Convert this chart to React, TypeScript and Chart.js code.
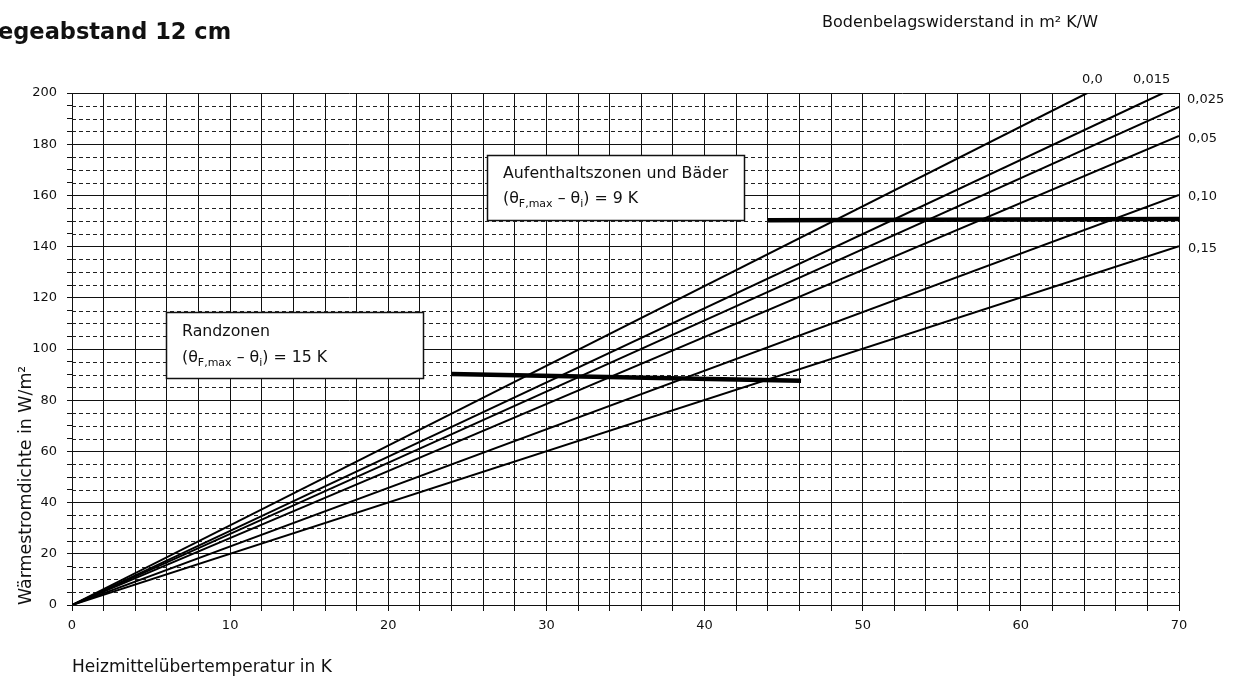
import React, { useEffect, useRef } from "react";
import { Chart, registerables } from "chart.js";

Chart.register(...registerables);

// ---- data ----
const resistanceLabels = ["0,0", "0,015", "0,025", "0,05", "0,10", "0,15"];
const lineX0 = [0, 0, 0, 0, 0, 0];
const lineY0 = [0, 0, 0, 0, 0, 0];
const lineX1 = [64.2, 69.0, 70, 70, 70, 70];
const lineY1 = [200, 200, 194.6, 183.2, 160.2, 140.2];

const limitNames = ["Aufenthaltszonen und Bäder", "Randzonen"];
const limitDelta = ["9 K", "15 K"];
const limitX = [
  [44, 70],
  [24, 46.1],
];
const limitY = [
  [150.3, 150.8],
  [90.2, 87.6],
];

const xTickMajor = 10;
const yTickMajor = 20;

const FONT = "'DejaVu Sans'";

const overlayPlugin = {
  id: "overlay",
  beforeDatasetsDraw(chart: any) {
    const { ctx, chartArea, scales } = chart;
    const y = scales.y;
    ctx.save();
    ctx.strokeStyle = "#222";
    ctx.lineWidth = 1;
    ctx.setLineDash([4, 3]);
    y.ticks.forEach((t: any) => {
      if (t.value % yTickMajor !== 0) {
        const py = Math.round(y.getPixelForValue(t.value)) + 0.5;
        ctx.beginPath();
        ctx.moveTo(chartArea.left, py);
        ctx.lineTo(chartArea.right, py);
        ctx.stroke();
      }
    });
    ctx.restore();
  },
  afterDatasetsDraw(chart: any) {
    const { ctx } = chart;
    ctx.save();
    ctx.fillStyle = "#111";
    ctx.textBaseline = "alphabetic";
    ctx.textAlign = "left";

    // title (cut off at the left edge, as in the reference)
    ctx.font = `bold 22.5px ${FONT}`;
    ctx.fillText("egeabstand 12 cm", -2, 39);

    // legend heading
    ctx.font = `16px ${FONT}`;
    ctx.fillText("Bodenbelagswiderstand in m² K/W", 822, 27);

    // curve labels
    ctx.font = `13px ${FONT}`;
    const labelPos = [
      [1082, 83],
      [1133, 83],
      [1187, 103],
      [1188, 142],
      [1188, 200],
      [1188, 252],
    ];
    resistanceLabels.forEach((l, i) => ctx.fillText(l, labelPos[i][0], labelPos[i][1]));

    // annotation boxes
    const boxes = [
      { x: 487.5, y: 155.5, w: 257, h: 65, tx: 503, b1: 178, b2: 203 },
      { x: 166.5, y: 312.5, w: 257, h: 66, tx: 182, b1: 336, b2: 362 },
    ];
    boxes.forEach((b, i) => {
      ctx.fillStyle = "#fff";
      ctx.fillRect(b.x, b.y, b.w, b.h);
      ctx.strokeStyle = "#111";
      ctx.lineWidth = 1.5;
      ctx.strokeRect(b.x, b.y, b.w, b.h);
      ctx.fillStyle = "#111";
      ctx.font = `15.8px ${FONT}`;
      ctx.fillText(limitNames[i], b.tx, b.b1);
      let x = b.tx;
      const seg = (s: string, small: boolean, dy: number) => {
        ctx.font = small ? `11px ${FONT}` : `15.8px ${FONT}`;
        ctx.fillText(s, x, b.b2 + dy);
        x += ctx.measureText(s).width;
      };
      seg("(θ", false, 0);
      seg("F,max", true, 4);
      seg(" – θ", false, 0);
      seg("i", true, 4);
      seg(") = " + limitDelta[i], false, 0);
    });
    ctx.restore();
  },
};

export default function App() {
  const ref = useRef<HTMLCanvasElement>(null);
  useEffect(() => {
    if (!ref.current) return;
    const curveSets = resistanceLabels.map((l, i) => ({
      label: l,
      data: [
        { x: lineX0[i], y: lineY0[i] },
        { x: lineX1[i], y: lineY1[i] },
      ],
      borderColor: "#000",
      borderWidth: 2,
      pointRadius: 0,
      fill: false,
      tension: 0,
    }));
    const limitSets = limitNames.map((l, i) => ({
      label: l,
      data: [
        { x: limitX[i][0], y: limitY[i][0] },
        { x: limitX[i][1], y: limitY[i][1] },
      ],
      borderColor: "#000",
      borderWidth: 4.5,
      borderCapStyle: "butt",
      pointRadius: 0,
      fill: false,
    }));
    const chart = new Chart(ref.current, {
      type: "line",
      data: { datasets: [...curveSets, ...limitSets] as any },
      options: {
        animation: false,
        responsive: false,
        devicePixelRatio: 1,
        layout: { padding: { left: 0, top: 93, right: 58, bottom: 0 } },
        plugins: { legend: { display: false }, tooltip: { enabled: false } },
        scales: {
          x: {
            type: "linear",
            min: 0,
            max: 70,
            afterFit: (s: any) => {
              s.height = 76;
            },
            ticks: {
              stepSize: 2,
              autoSkip: false,
              maxRotation: 0,
              padding: 7,
              color: "#111",
              font: { family: FONT, size: 13 },
              callback: (v: any) => (v % xTickMajor === 0 ? String(v) : ""),
            },
            grid: { color: "#111", lineWidth: 1, tickLength: 6, tickColor: "#111" },
            border: { color: "#111", width: 1 },
            title: {
              display: true,
              text: "Heizmittelübertemperatur in K",
              align: "start",
              color: "#111",
              font: { family: FONT, size: 17 },
              padding: { top: 0, bottom: 3 },
            },
          },
          y: {
            type: "linear",
            min: 0,
            max: 200,
            afterFit: (s: any) => {
              s.width = 72;
            },
            ticks: {
              stepSize: 5,
              autoSkip: false,
              padding: 10,
              color: "#111",
              font: { family: FONT, size: 13 },
              callback: (v: any) => (v % yTickMajor === 0 ? String(v) : ""),
            },
            grid: {
              color: (c: any) => (c.tick && c.tick.value % yTickMajor === 0 ? "#111" : "rgba(0,0,0,0)"),
              lineWidth: 1,
              tickLength: 5,
              tickColor: "#111",
            },
            border: { color: "#111", width: 1 },
            title: {
              display: true,
              text: "Wärmestromdichte in W/m²",
              align: "start",
              color: "#111",
              font: { family: FONT, size: 17.4 },
              padding: { top: 16, bottom: 0 },
            },
          },
        },
      },
      plugins: [overlayPlugin],
    } as any);
    return () => chart.destroy();
  }, []);
  return (
    <div style={{ position: "fixed", left: 0, top: 0, width: 1237, height: 681, background: "#fff" }}>
      <canvas ref={ref} width={1237} height={681} />
    </div>
  );
}
